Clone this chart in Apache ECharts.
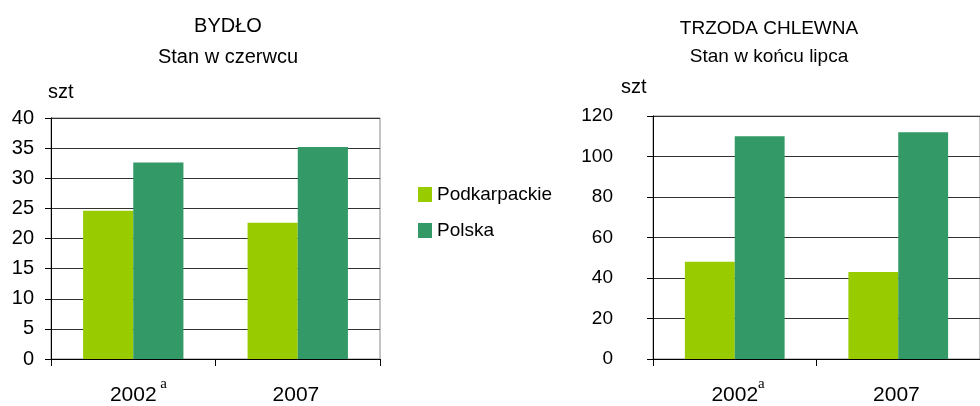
<!DOCTYPE html>
<html><head><meta charset="utf-8">
<script src="https://cdn.jsdelivr.net/npm/echarts@6/dist/echarts.min.js"></script>
<style>html,body{margin:0;padding:0;background:#fff}#c{width:980px;height:406px}</style>
</head><body><div id="c"></div>
<script>
const categories = ['2002', '2007'];
const seriesNames = ['Podkarpackie', 'Polska'];
const cattleRegion = [24.6, 22.6];
const cattlePoland = [32.6, 35.2];
const pigsRegion = [48, 43];
const pigsPoland = [110, 112];
const cattleTicks = [0, 40, 5];
const pigsTicks = [0, 120, 20];

const FONT = '"Liberation Sans", Arial, sans-serif';
const SERIF = '"Liberation Serif", "Times New Roman", serif';
const colors = ['#99CC00', '#339966'];

function xAx(idx, spaced) {
  const sup = (spaced ? '{sp| }' : '') + '{s|a}';
  const ghost = (spaced ? '{hsp| }' : '') + '{h|a}';
  return {
    type: 'category', gridIndex: idx, data: categories,
    axisLine: {lineStyle: {color: '#000', width: 1}},
    axisTick: {show: true, length: 7, lineStyle: {color: '#000'}},
    axisLabel: {
      interval: 0, hideOverlap: false,
      margin: 18, color: '#000', fontFamily: FONT, fontSize: 21,
      formatter: v => v === '2002' ? ghost + '{n|2002}' + sup : '{n|' + v + '}{s| }',
      rich: {
        n: {fontSize: 21, fontFamily: FONT, color: '#000'},
        sp: {fontSize: 13},
        hsp: {fontSize: 13},
        s: {fontSize: 15, fontFamily: SERIF, color: '#000', padding: [0, 0, 22, 0]},
        h: {fontSize: 15, fontFamily: SERIF, color: 'rgba(0,0,0,0)', padding: [0, 0, 22, 0]}
      }
    }
  };
}
function yAx(idx, t, margin, fs) {
  return {
    type: 'value', gridIndex: idx, min: t[0], max: t[1], interval: t[2],
    axisLine: {show: true, lineStyle: {color: '#000'}},
    axisTick: {show: true, length: 6, lineStyle: {color: '#000'}},
    axisLabel: {margin: margin, color: '#000', fontFamily: FONT, fontSize: fs},
    splitLine: {show: true, lineStyle: {color: '#333', width: 1}}
  };
}
function bar(name, data, idx, ci) {
  return {
    type: 'bar', name: name, data: data, xAxisIndex: idx, yAxisIndex: idx,
    barGap: '0%', barCategoryGap: '39%',
    itemStyle: {color: colors[ci]}, emphasis: {disabled: true}, animation: false
  };
}
const ts = fs => ({fontSize: fs, fontWeight: 'normal', color: '#000', fontFamily: FONT});

const chart = echarts.init(document.getElementById('c'), null, {renderer: 'canvas'});
chart.setOption({
  animation: false,
  textStyle: {fontFamily: FONT},
  title: [
    {text: 'BYDŁO', left: 223, top: 11, textAlign: 'center', textStyle: ts(20)},
    {text: 'Stan w czerwcu', left: 223, top: 42, textAlign: 'center', textStyle: ts(20)},
    {text: 'szt', left: 43, top: 77, textStyle: ts(20)},
    {text: 'TRZODA CHLEWNA', left: 764, top: 14, textAlign: 'center', textStyle: ts(19)},
    {text: 'Stan w końcu lipca', left: 764, top: 42, textAlign: 'center', textStyle: ts(19)},
    {text: 'szt', left: 616, top: 72, textStyle: ts(20)}
  ],
  legend: {
    orient: 'vertical', left: 413, top: 180, itemWidth: 14, itemHeight: 15, itemGap: 17,
    icon: 'rect', data: seriesNames,
    textStyle: {fontSize: 19, color: '#000', fontFamily: FONT}
  },
  grid: [
    {left: 51, top: 118, width: 329, height: 242, show: true, borderColor: '#888', borderWidth: 1},
    {left: 653, top: 116, width: 338, height: 243, show: true, borderColor: '#888', borderWidth: 1}
  ],
  xAxis: [xAx(0, true), xAx(1, false)],
  yAxis: [yAx(0, cattleTicks, 17, 20), yAx(1, pigsTicks, 40, 19)],
  series: [
    bar(seriesNames[0], cattleRegion, 0, 0),
    bar(seriesNames[1], cattlePoland, 0, 1),
    bar(seriesNames[0], pigsRegion, 1, 0),
    bar(seriesNames[1], pigsPoland, 1, 1)
  ]
});
</script></body></html>
